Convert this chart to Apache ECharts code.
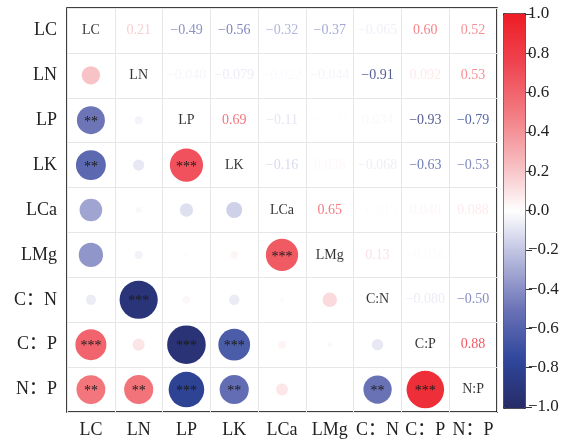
<!DOCTYPE html>
<html>
<head>
<meta charset="utf-8">
<script src="https://cdn.jsdelivr.net/npm/echarts@6/dist/echarts.min.js"></script>
<style>html,body{margin:0;padding:0;background:#fff;}#c{width:576px;height:440px;}</style>
</head>
<body>
<div id="c"></div>
<script>
// Variables (diagonal names) and axis tick labels
const varNames = ['LC', 'LN', 'LP', 'LK', 'LCa', 'LMg', 'C:N', 'C:P', 'N:P'];
const axisLabels = ['LC', 'LN', 'LP', 'LK', 'LCa', 'LMg', 'C：N', 'C：P', 'N：P'];
// Correlation matrix rows
const r_LC  = [1, 0.21, -0.49, -0.56, -0.32, -0.37, -0.065, 0.60, 0.52];
const r_LN  = [0.21, 1, -0.040, -0.079, -0.022, -0.044, -0.91, 0.092, 0.53];
const r_LP  = [-0.49, -0.040, 1, 0.69, -0.11, -0.011, 0.034, -0.93, -0.79];
const r_LK  = [-0.56, -0.079, 0.69, 1, -0.16, 0.036, -0.068, -0.63, -0.53];
const r_LCa = [-0.32, -0.022, -0.11, -0.16, 1, 0.65, -0.015, 0.040, 0.088];
const r_LMg = [-0.37, -0.044, -0.011, 0.036, 0.65, 1, 0.13, -0.016, 0.003];
const r_CN  = [-0.065, -0.91, 0.034, -0.068, -0.015, 0.13, 1, -0.080, -0.50];
const r_CP  = [0.60, 0.092, -0.93, -0.63, 0.040, -0.016, -0.080, 1, 0.88];
const r_NP  = [0.52, 0.53, -0.79, -0.53, 0.088, 0.003, -0.50, 0.88, 1];
const corr = [r_LC, r_LN, r_LP, r_LK, r_LCa, r_LMg, r_CN, r_CP, r_NP];
// Significance stars (lower triangle, row index > column index)
const s_LC  = ['', '', '', '', '', '', '', '', ''];
const s_LN  = ['', '', '', '', '', '', '', '', ''];
const s_LP  = ['**', '', '', '', '', '', '', '', ''];
const s_LK  = ['**', '', '***', '', '', '', '', '', ''];
const s_LCa = ['', '', '', '', '', '', '', '', ''];
const s_LMg = ['', '', '', '', '***', '', '', '', ''];
const s_CN  = ['', '***', '', '', '', '', '', '', ''];
const s_CP  = ['***', '', '***', '***', '', '', '', '', ''];
const s_NP  = ['**', '**', '***', '**', '', '', '**', '***', ''];
const stars = [s_LC, s_LN, s_LP, s_LK, s_LCa, s_LMg, s_CN, s_CP, s_NP];
// Colorbar ticks
const cbMin = -1, cbMax = 1, cbStep = 0.2;

const palette = ['#272B66','#2F479C','#6A72B6','#B3B7DB','#FFFFFF','#F6B8BC','#F27A80','#EF4450','#EE1C25'];
function hex2rgb(h){return [parseInt(h.slice(1,3),16),parseInt(h.slice(3,5),16),parseInt(h.slice(5,7),16)];}
function cmap(v){
  let t = (v - cbMin) / (cbMax - cbMin) * (palette.length - 1);
  t = Math.max(0, Math.min(palette.length - 1, t));
  let i = Math.min(palette.length - 2, Math.floor(t)), f = t - i;
  const a = hex2rgb(palette[i]), b = hex2rgb(palette[i+1]);
  const c = a.map((x,k)=>Math.round(x + (b[k]-x)*f));
  return 'rgb(' + c.join(',') + ')';
}
function fmt(v){ return v.toPrecision(2).replace('-', '−'); }

const circleData = [], textData = [], diagData = [];
for (let r = 0; r < varNames.length; r++) {
  for (let c = 0; c < varNames.length; c++) {
    const v = corr[r][c];
    if (r === c) {
      diagData.push({ value: [c, r], label: { formatter: varNames[r] } });
    } else if (r > c) {
      circleData.push({ value: [c, r, v], itemStyle: { color: cmap(v), opacity: 1 }, label: { formatter: stars[r][c] } });
    } else {
      textData.push({ value: [c, r, v], label: { formatter: fmt(v), color: cmap(v) } });
    }
  }
}

const serif = '"Liberation Serif", "Times New Roman", "Noto Sans CJK SC", serif';
const chart = echarts.init(document.getElementById('c'));
chart.setOption({
  animation: false,
  grid: [
    { left: 67, top: 8, width: 430, height: 404, show: true, borderColor: '#000', borderWidth: 1.5, backgroundColor: 'transparent' },
    { left: 525, top: 14, width: 1, height: 393 }
  ],
  xAxis: [
    { type: 'category', gridIndex: 0, data: axisLabels, boundaryGap: true,
      axisLine: { show: false }, axisTick: { show: false },
      splitLine: { show: true, interval: 0, lineStyle: { color: '#E6E6E6', width: 1 } },
      axisLabel: { interval: 0, margin: 9, fontSize: 18, color: '#222', fontFamily: serif } },
    { type: 'value', gridIndex: 1, show: false }
  ],
  yAxis: [
    { type: 'category', gridIndex: 0, data: axisLabels, inverse: true, boundaryGap: true,
      axisLine: { show: false }, axisTick: { show: false },
      splitLine: { show: true, interval: 0, lineStyle: { color: '#E6E6E6', width: 1 } },
      axisLabel: { interval: 0, margin: 10, fontSize: 18, color: '#222', fontFamily: serif } },
    { type: 'value', gridIndex: 1, min: cbMin, max: cbMax, interval: cbStep, position: 'right',
      axisLine: { show: true, lineStyle: { color: '#666', width: 1 } },
      axisTick: { show: true, length: 7, lineStyle: { color: '#333' } },
      splitLine: { show: false },
      axisLabel: { margin: 2, fontSize: 17, color: '#222', fontFamily: serif,
        formatter: v => v.toFixed(1).replace('-', '−') } }
  ],
  visualMap: {
    type: 'continuous', min: cbMin, max: cbMax, seriesIndex: 3, calculable: false,
    orient: 'vertical', left: 503, top: 13, itemWidth: 22, itemHeight: 395,
    padding: 0, borderColor: '#333', borderWidth: 1, text: null, showLabel: false,
    inRange: { color: palette }
  },
  series: [
    { type: 'scatter', xAxisIndex: 0, yAxisIndex: 0, data: circleData,
      symbol: 'circle', symbolSize: v => 40 * Math.sqrt(Math.abs(v[2])),
      itemStyle: { opacity: 1 },
      label: { show: true, position: 'inside', color: '#1a1a1a', fontSize: 14, fontFamily: serif, offset: [0, 2] } },
    { type: 'scatter', xAxisIndex: 0, yAxisIndex: 0, data: textData, symbolSize: 0,
      label: { show: true, position: 'inside', fontSize: 14, fontFamily: serif } },
    { type: 'scatter', xAxisIndex: 0, yAxisIndex: 0, data: diagData, symbolSize: 0,
      label: { show: true, position: 'inside', fontSize: 14, color: '#000', fontFamily: serif } },
    { type: 'scatter', xAxisIndex: 0, yAxisIndex: 0, data: [], symbolSize: 0 }
  ]
});
</script>
</body>
</html>
